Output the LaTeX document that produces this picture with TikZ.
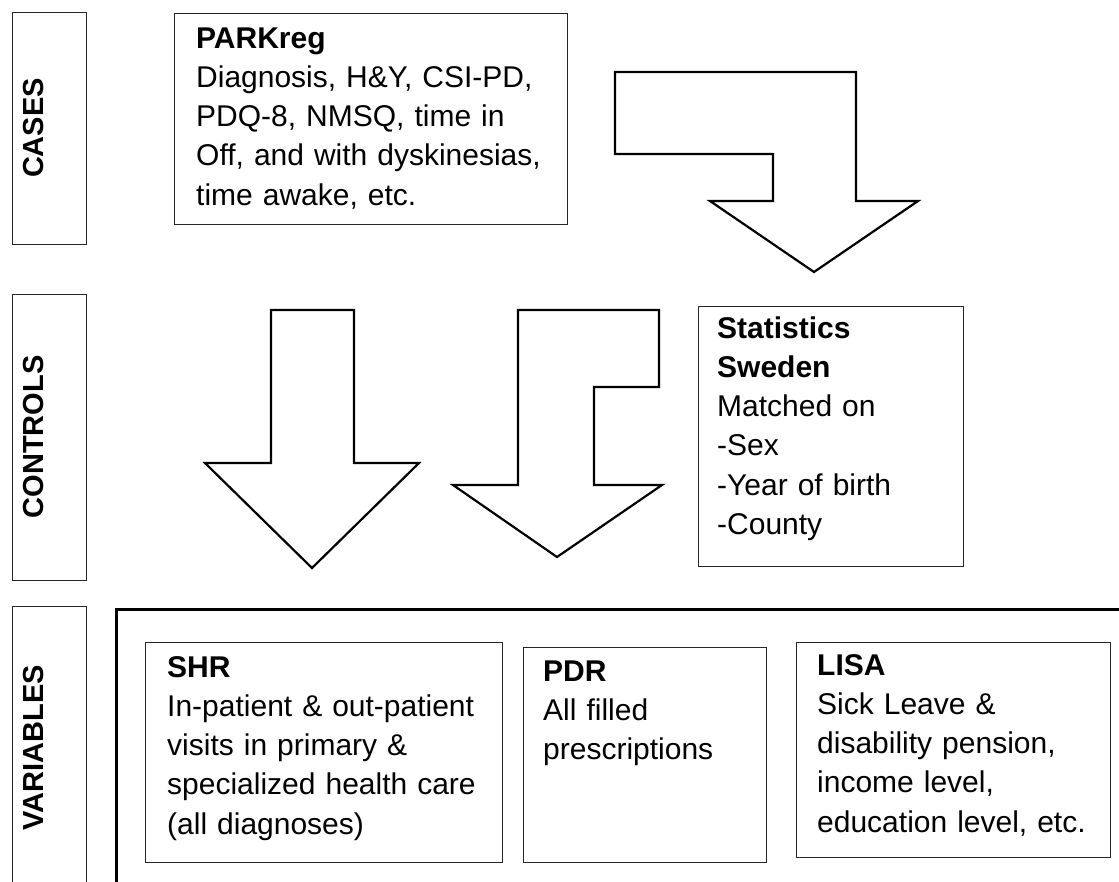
\documentclass[tikz,border=0pt]{standalone}
\usepackage{fontspec}
\setmainfont{Liberation Sans}
\begin{document}
\begin{tikzpicture}[x=1pt,y=-1pt,
  box/.style={draw=black!85, line width=1.4pt, inner sep=0pt, anchor=north west},
  bigbox/.style={draw=black, line width=2.6pt, inner sep=0pt, anchor=north west},
  blockarrow/.style={draw=black, line width=2.2pt, fill=white, line join=miter},
  txt/.style={anchor=base west, inner sep=0pt, align=left, text width=420pt,
    font=\fontsize{30}{39.3}\selectfont},
  sidelabel/.style={rotate=90, inner sep=0pt, font=\fontsize{29}{32}\selectfont\bfseries}]
\useasboundingbox (0,0) rectangle (1119,881);
\clip (0,0) rectangle (1119,881);
% side boxes
\node[box, minimum width=74pt, minimum height=232pt] (cases) at (12,12) {};
\node[sidelabel] (caseslbl) at (34,128) {CASES};
\node[box, minimum width=74pt, minimum height=286pt] (controls) at (12,294) {};
\node[sidelabel] (controlslbl) at (34,437) {CONTROLS};
\node[box, minimum width=74pt, minimum height=290pt] (variables) at (12,606) {};
\node[sidelabel] (variableslbl) at (34,748) {VARIABLES};
% PARKreg
\node[box, minimum width=393pt, minimum height=211pt] (parkreg) at (174,13) {};
\node[txt] (parkregtxt) at (196,48) {\textbf{PARKreg}\\Diagnosis, H\&Y, CSI-PD,\\PDQ-8, NMSQ, time in\\Off, and with dyskinesias,\\time awake, etc.};
% Statistics Sweden
\node[box, minimum width=265pt, minimum height=260pt] (stats) at (698,306) {};
\node[txt] (statstxt) at (717,338) {\textbf{Statistics}\\\textbf{Sweden}\\Matched on\\-Sex\\-Year of birth\\-County};
% block arrows
\draw[blockarrow] (615,72) -- (856,72) -- (856,201) -- (918,201) -- (814,272) -- (710,201) -- (773,201) -- (773,154) -- (615,154) -- cycle;
\draw[blockarrow] (271,310) -- (354,310) -- (354,463) -- (419,463) -- (312,568) -- (205,463) -- (271,463) -- cycle;
\draw[blockarrow] (518,310) -- (659,310) -- (659,387) -- (594,387) -- (594,485) -- (662,485) -- (557,557) -- (453,485) -- (518,485) -- cycle;
% variables area
\node[bigbox, minimum width=1030pt, minimum height=300pt] (varframe) at (115,608) {};
\node[box, minimum width=357pt, minimum height=220pt] (shr) at (145,642) {};
\node[txt] (shrtxt) at (167,677) {\textbf{SHR}\\In-patient \& out-patient\\visits in primary \&\\specialized health care\\(all diagnoses)};
\node[box, minimum width=243pt, minimum height=215pt] (pdr) at (523,647) {};
\node[txt] (pdrtxt) at (543,681) {\textbf{PDR}\\All filled\\prescriptions};
\node[box, minimum width=314pt, minimum height=215pt] (lisa) at (796,642) {};
\node[txt] (lisatxt) at (817,675) {\textbf{LISA}\\Sick Leave \&\\disability pension,\\income level,\\education level, etc.};
\end{tikzpicture}
\end{document}
